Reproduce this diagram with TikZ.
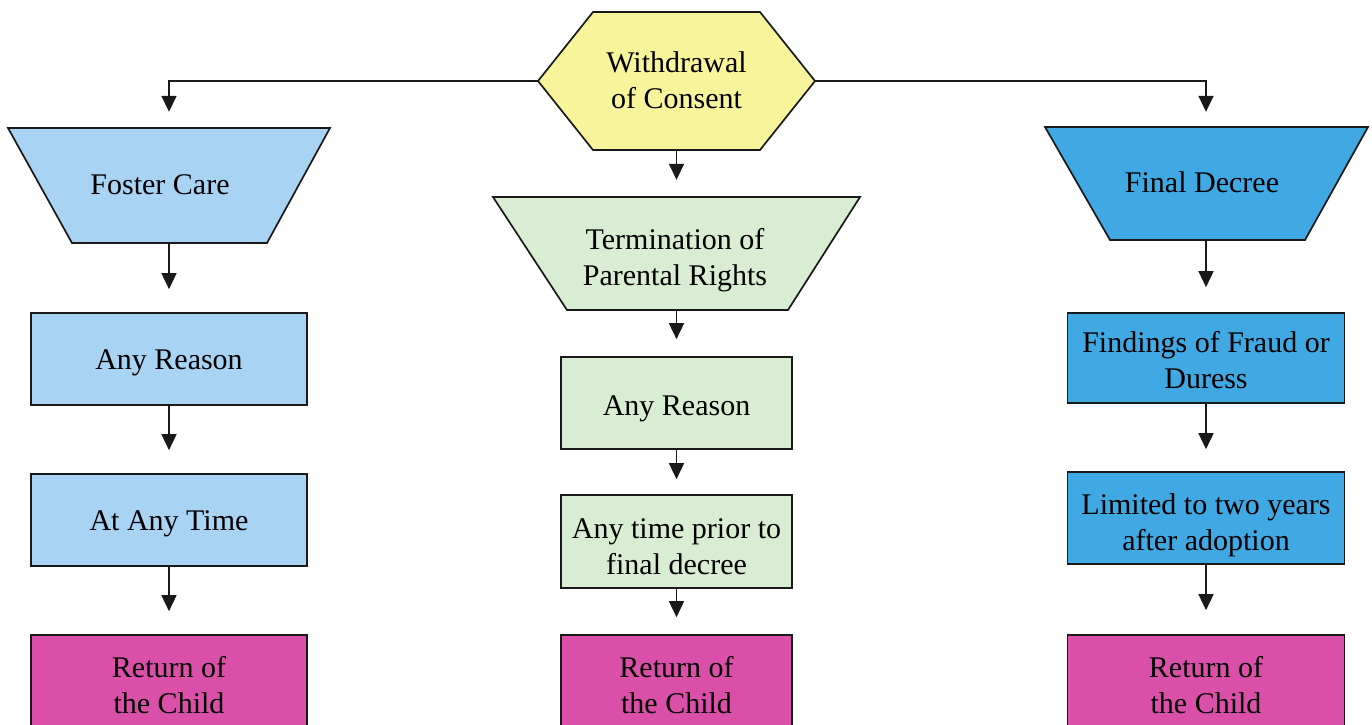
\documentclass[tikz,border=0pt]{standalone}
\usepackage{fontspec}
\setmainfont{Liberation Serif}
\usetikzlibrary{arrows.meta}
\definecolor{hexyellow}{RGB}{248,244,156}
\definecolor{lblue}{RGB}{168,211,243}
\definecolor{dblue}{RGB}{64,168,226}
\definecolor{lgreen}{RGB}{216,237,209}
\definecolor{magent}{RGB}{218,80,168}
\definecolor{ink}{RGB}{25,25,25}
\tikzset{
  lbl/.style={font=\fontsize{30}{36}\selectfont, align=center, text=black, inner sep=0pt},
  box/.style={draw=ink, line width=1.7pt, inner sep=0pt},
  shp/.style={draw=ink, line width=1.7pt, line join=miter},
  hold/.style={inner sep=0pt},
  arr/.style={draw=ink, line width=1.7pt, -{Triangle[width=15pt,length=16pt]}},
}
\begin{document}
\begin{tikzpicture}[x=1pt,y=-1pt]
\useasboundingbox[fill=white] (0,0) rectangle (1372,724);
% hexagon
\filldraw[shp, fill=hexyellow] (593,12) -- (760,12) -- (815,81) -- (760,150) -- (593,150) -- (538,81) -- cycle;
\node[hold, minimum width=277pt, minimum height=138pt,
  label={[lbl,yshift=1pt]center:{Withdrawal\\of Consent}}] (wc) at (676.5,81) {};
% trapezoids
\filldraw[shp, fill=lblue] (8,128) -- (330,128) -- (267,243) -- (72,243) -- cycle;
\node[hold, minimum width=322pt, minimum height=115pt,
  label={[lbl,xshift=-9pt,yshift=1pt]center:{Foster Care}}] (fc) at (169,185.5) {};
\filldraw[shp, fill=lgreen] (493,197) -- (860,197) -- (788,310) -- (567,310) -- cycle;
\node[hold, minimum width=367pt, minimum height=113pt,
  label={[lbl,xshift=-1.5pt,yshift=-7pt]center:{Termination of\\Parental Rights}}] (tp) at (676.5,253.5) {};
\filldraw[shp, fill=dblue] (1045,127) -- (1368,127) -- (1305,240) -- (1110,240) -- cycle;
\node[hold, minimum width=323pt, minimum height=113pt,
  label={[lbl,xshift=-4pt,yshift=1pt]center:{Final Decree}}] (fd) at (1206,183.5) {};
% left column
\node[box, fill=lblue, minimum width=276pt, minimum height=92pt,
  label={[lbl,yshift=-4pt]center:{Any Reason}}] (a1) at (169,359) {};
\node[box, fill=lblue, minimum width=276pt, minimum height=92pt,
  label={[lbl,yshift=-4pt]center:{At Any Time}}] (a2) at (169,520) {};
\node[box, fill=magent, minimum width=276pt, minimum height=99pt,
  label={[lbl,yshift=-1pt]center:{Return of\\the Child}}] (r1) at (169,684.5) {};
% middle column
\node[box, fill=lgreen, minimum width=231pt, minimum height=92pt,
  label={[lbl,yshift=-6pt]center:{Any Reason}}] (m1) at (676.5,403) {};
\node[box, fill=lgreen, minimum width=231pt, minimum height=93pt,
  label={[lbl,yshift=-5pt]center:{Any time prior to\\final decree}}] (m2) at (676.5,541.5) {};
\node[box, fill=magent, minimum width=231pt, minimum height=99pt,
  label={[lbl,yshift=-1pt]center:{Return of\\the Child}}] (r2) at (676.5,684.5) {};
% right column
\node[box, fill=dblue, minimum width=277pt, minimum height=90pt,
  label={[lbl,yshift=-2pt]center:{Findings of Fraud or\\Duress}}] (f1) at (1206,358) {};
\node[box, fill=dblue, minimum width=277pt, minimum height=92pt,
  label={[lbl,yshift=-7pt]center:{Limited to two years\\after adoption}}] (f2) at (1206,518) {};
\node[box, fill=magent, minimum width=277pt, minimum height=99pt,
  label={[lbl,yshift=-1pt]center:{Return of\\the Child}}] (r3) at (1206,684.5) {};
% connectors
\draw[arr, shorten >=16pt] (wc.west) -| (fc.north);
\draw[arr, shorten >=15pt] (wc.east) -| (fd.north);
\draw[arr, shorten >=17pt] (wc.south) -- (tp.north);
\draw[arr, shorten >=23pt] (fc.south) -- (a1.north);
\draw[arr, shorten >=23pt] (a1.south) -- (a2.north);
\draw[arr, shorten >=23pt] (a2.south) -- (r1.north);
\draw[arr, shorten >=17pt] (tp.south) -- (m1.north);
\draw[arr, shorten >=15pt] (m1.south) -- (m2.north);
\draw[arr, shorten >=17pt] (m2.south) -- (r2.north);
\draw[arr, shorten >=25pt] (fd.south) -- (f1.north);
\draw[arr, shorten >=22pt] (f1.south) -- (f2.north);
\draw[arr, shorten >=24pt] (f2.south) -- (r3.north);
\end{tikzpicture}
\end{document}
